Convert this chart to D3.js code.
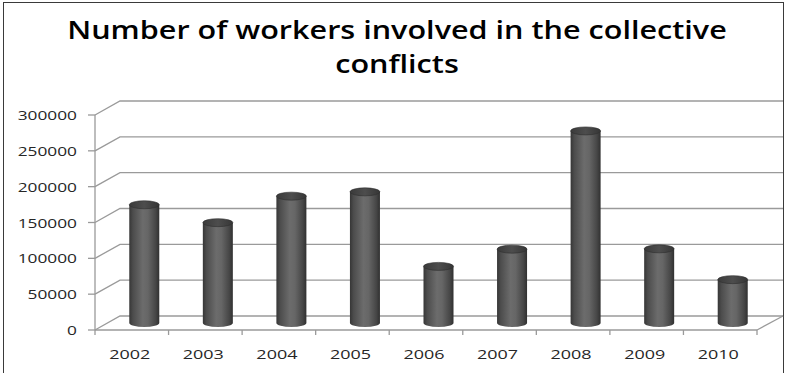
<!DOCTYPE html>
<html>
<head>
<meta charset="utf-8">
<script src="https://cdn.jsdelivr.net/npm/d3@7"></script>
<style>
  html, body { margin: 0; padding: 0; background: #fff; }
  svg { display: block; }
</style>
</head>
<body>
<svg id="chart" width="787" height="373"></svg>
<script>
const titleLines = ["Number of workers involved in the collective", "conflicts"];
const years = ["2002", "2003", "2004", "2005", "2006", "2007", "2008", "2009", "2010"];
const workers = [165000, 140000, 177000, 183000, 79000, 103000, 268000, 103500, 60500];
const yTicks = [0, 50000, 100000, 150000, 200000, 250000, 300000];

(function () {
const svg = d3.select("#chart");
const pL = 95, pR = 757, pB = 330, pT = 115;
const depthX = 25, depthY = -14;

const x = d3.scaleBand().domain(years).range([pL, pR]).paddingInner(0).paddingOuter(0);
const y = d3.scaleLinear().domain([0, 300000]).range([pB, pT]);

const defs = svg.append("defs");
const grad = defs.append("linearGradient").attr("id", "cyl").attr("x1", "0%").attr("x2", "100%").attr("y1", "0%").attr("y2", "0%");
[["0%", "#363636"], ["12%", "#4c4c4c"], ["45%", "#6c6c6c"], ["62%", "#666"], ["88%", "#464646"], ["100%", "#303030"]]
  .forEach(([o, c]) => grad.append("stop").attr("offset", o).attr("stop-color", c));
const gradTop = defs.append("linearGradient").attr("id", "cyltop").attr("x1", "0%").attr("x2", "100%");
[["0%", "#3a3a3a"], ["50%", "#4d4d4d"], ["100%", "#363636"]]
  .forEach(([o, c]) => gradTop.append("stop").attr("offset", o).attr("stop-color", c));

// frame
svg.append("rect").attr("x", 3.5).attr("y", 2.5).attr("width", 780).attr("height", 380)
  .attr("fill", "none").attr("stroke", "#3a3a3a").attr("stroke-width", 1);

const gridColor = "#9a9a9a";
const grid = svg.append("g");
yTicks.forEach(t => {
  const yf = y(t);
  grid.append("path")
    .attr("d", `M${pL},${yf} L${pL + depthX},${yf + depthY} L${783},${yf + depthY}`)
    .attr("fill", "none").attr("stroke", gridColor).attr("stroke-width", 1.3);
});
grid.append("line").attr("x1", pR).attr("y1", pB).attr("x2", pR + depthX + 1).attr("y2", pB + depthY)
  .attr("stroke", gridColor).attr("stroke-width", 1.3);

// y axis
const yAxis = svg.append("g");
yAxis.append("line").attr("x1", pL).attr("x2", pL).attr("y1", pT).attr("y2", pB)
  .attr("stroke", gridColor).attr("stroke-width", 1.3);
yTicks.forEach(t => {
  yAxis.append("line").attr("x1", pL - 7).attr("x2", pL).attr("y1", y(t)).attr("y2", y(t))
    .attr("stroke", gridColor).attr("stroke-width", 1.3);
  yAxis.append("text")
    .attr("transform", `translate(77,${y(t) + 5}) scale(1.33,1)`)
    .attr("text-anchor", "end")
    .attr("font-family", "Open Sans")
    .attr("font-size", 13)
    .attr("fill", "#262626")
    .text(t);
});

// x axis
const xAxis = svg.append("g");
xAxis.append("line").attr("x1", pL).attr("x2", pR).attr("y1", pB).attr("y2", pB)
  .attr("stroke", gridColor).attr("stroke-width", 1.3);
const edges = years.map(d => x(d)).concat([pR]);
edges.forEach(e => {
  xAxis.append("line").attr("x1", e).attr("x2", e).attr("y1", pB).attr("y2", pB + 5)
    .attr("stroke", gridColor).attr("stroke-width", 1.3);
});
years.forEach(d => {
  xAxis.append("text")
    .attr("transform", `translate(${x(d) + x.bandwidth() / 2 - 2},359) scale(1.33,1)`)
    .attr("text-anchor", "middle")
    .attr("font-family", "Open Sans")
    .attr("font-size", 13.5)
    .attr("fill", "#262626")
    .text(d);
});

// cylinders
const bw = 30, rx = bw / 2, ry = 4;
const bars = svg.append("g");
years.forEach((d, i) => {
  const cx = x(d) + x.bandwidth() / 2 + depthX / 2;
  const yb = y(0) + depthY / 2;
  const yt = y(workers[i]) + depthY / 2;
  const g = bars.append("g");
  g.append("path")
    .attr("d", `M${cx - rx},${yt} L${cx - rx},${yb} A${rx},${ry} 0 0 0 ${cx + rx},${yb} L${cx + rx},${yt} Z`)
    .attr("fill", "url(#cyl)");
  g.append("ellipse").attr("cx", cx).attr("cy", yt).attr("rx", rx).attr("ry", ry)
    .attr("fill", "url(#cyltop)").attr("stroke", "#2f2f2f").attr("stroke-width", 0.6);
});

// title
const title = svg.append("g");
const tl = titleLines.map(s => title.append("text")
  .attr("x", 0).attr("y", 0)
  .attr("text-anchor", "middle")
  .attr("font-family", "Open Sans")
  .attr("font-weight", 600)
  .attr("font-size", 25)
  .attr("fill", "#000")
  .text(s));
const len0 = tl[0].node().getComputedTextLength();
const sx = 660 / len0;
tl[0].attr("transform", `translate(397,39) scale(${sx},1)`);
tl[1].attr("transform", `translate(397,73) scale(${sx},1)`);
})();
</script>
</body>
</html>
